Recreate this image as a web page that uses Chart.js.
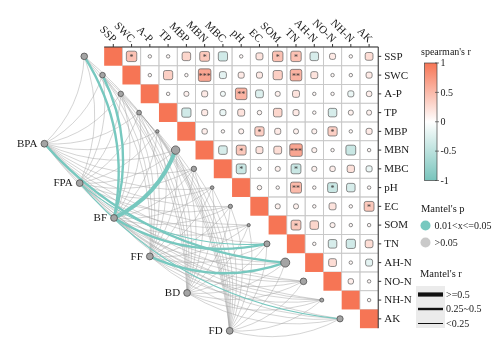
<!DOCTYPE html>
<html><head><meta charset="utf-8">
<script src="https://cdn.jsdelivr.net/npm/chart.js@4"></script>
<style>html,body{margin:0;padding:0;background:#fff}canvas{display:block}</style>
</head><body>
<canvas id="c" width="500" height="350"></canvas>
<script>
// ---------------- DATA ----------------
const variables = ['SSP','SWC','A-P','TP','MBP','MBN','MBC','pH','EC','SOM','TN','AH-N','NO-N','NH-N','AK'];
// Spearman's r, upper triangle: row i holds columns i+1 .. 14
const corrSSP  = [0.45,0.05,0.05,0.30,0.40,-0.35,0.05,0.20,0.45,0.45,-0.30,0.15,0.05,0.25];
const corrSWC  = [0.05,0.35,0.05,0.65,-0.20,0.15,0.15,0.35,0.55,0.20,0.05,0.05,0.15];
const corrAP   = [0.05,0.10,0.15,-0.10,0.55,-0.25,0.10,0.20,0.05,0.05,-0.15,0.12];
const corrTP   = [-0.35,0.15,-0.15,0.20,0.08,0.30,0.15,0.05,-0.30,0.10,0.10];
const corrMBP  = [0.12,0.05,0.10,0.35,0.15,0.10,0.10,0.35,0.05,0.15];
const corrMBN  = [-0.30,0.40,0.20,0.25,0.65,0.10,0.05,-0.40,0.05];
const corrMBC  = [-0.40,0.05,0.10,-0.40,0.10,0.12,0.22,-0.15];
const corrPH   = [0.08,0.05,0.50,0.05,-0.40,-0.30,0.05];
const corrEC   = [0.10,0.10,0.05,0.20,0.05,0.40];
const corrSOM  = [0.40,0.30,0.10,0.05,0.05];
const corrTN   = [0.05,-0.30,-0.35,0.25];
const corrAHN  = [0.25,0.05,-0.20];
const corrNON  = [0.12,0.05];
const corrNHN  = [0.05];
const corrRows = [corrSSP,corrSWC,corrAP,corrTP,corrMBP,corrMBN,corrMBC,corrPH,corrEC,corrSOM,corrTN,corrAHN,corrNON,corrNHN];
// significance marks, same shape
const sigSSP = ['*','','','','*','','','','*','*','','','',''];
const sigSWC = ['','','','***','','','','','**','','','',''];
const sigAP  = ['','','','','**','','','','','','',''];
const sigTP  = ['','','','','','','','','','',''];
const sigMBP = ['','','','*','','','','*','',''];
const sigMBN = ['','*','','','***','','','',''];
const sigMBC = ['*','','','*','','','',''];
const sigPH  = ['','','**','','*','',''];
const sigEC  = ['','','','','','*'];
const sigSOM = ['*','','','',''];
const sigTN  = ['','','',''];
const sigAHN = ['','',''];
const sigNON = ['',''];
const sigNHN = [''];
const sigRows = [sigSSP,sigSWC,sigAP,sigTP,sigMBP,sigMBN,sigMBC,sigPH,sigEC,sigSOM,sigTN,sigAHN,sigNON,sigNHN];

// Mantel tests: each source vs each variable
const sources = ['BPA','FPA','BF','FF','BD','FD'];
const mantelR_BPA = [0.10,0.08,0.12,0.06,0.09,0.14,0.05,0.07,0.11,0.08,0.16,0.31,0.10,0.06,0.09];
const mantelP_BPA = [0.41,0.52,0.33,0.68,0.47,0.22,0.79,0.61,0.38,0.55,0.14,0.032,0.44,0.71,0.49];
const mantelR_FPA = [0.07,0.11,0.05,0.09,0.13,0.08,0.10,0.06,0.12,0.07,0.21,0.10,0.08,0.14,0.19];
const mantelP_FPA = [0.63,0.36,0.82,0.51,0.29,0.58,0.45,0.74,0.34,0.66,0.041,0.43,0.57,0.26,0.046];
const mantelR_BF  = [0.42,0.39,0.09,0.11,0.07,0.56,0.12,0.08,0.10,0.06,0.33,0.14,0.09,0.11,0.08];
const mantelP_BF  = [0.021,0.026,0.49,0.37,0.64,0.012,0.31,0.58,0.42,0.71,0.034,0.19,0.52,0.39,0.60];
const mantelR_FF  = [0.06,0.09,0.11,0.07,0.10,0.13,0.08,0.12,0.05,0.09,0.15,0.36,0.10,0.07,0.11];
const mantelP_FF  = [0.72,0.48,0.35,0.66,0.43,0.27,0.59,0.31,0.84,0.50,0.18,0.028,0.46,0.69,0.37];
const mantelR_BD  = [0.08,0.05,0.10,0.12,0.07,0.09,0.11,0.06,0.13,0.08,0.10,0.07,0.12,0.09,0.06];
const mantelP_BD  = [0.55,0.83,0.40,0.30,0.67,0.50,0.36,0.75,0.25,0.60,0.42,0.70,0.32,0.53,0.78];
const mantelR_FD  = [0.09,0.07,0.06,0.10,0.12,0.08,0.05,0.11,0.09,0.13,0.07,0.10,0.06,0.08,0.12];
const mantelP_FD  = [0.47,0.62,0.77,0.40,0.28,0.57,0.85,0.34,0.48,0.23,0.65,0.39,0.73,0.56,0.31];
const mantelR = [mantelR_BPA,mantelR_FPA,mantelR_BF,mantelR_FF,mantelR_BD,mantelR_FD];
const mantelP = [mantelP_BPA,mantelP_FPA,mantelP_BF,mantelP_FF,mantelP_BD,mantelP_FD];

const colorbarTicks = [1,0.5,0,-0.5,-1];
const mantelPLabels = ['0.01<x<=0.05','>0.05'];
const mantelRLabels = ['>=0.5','0.25~0.5','<0.25'];

// ---------------- LAYOUT / STYLE ----------------
const W = 500, H = 350;
const cellW = 18.667, cellH = 19.333, gridLeft = 101, gridTop = 43;
const xMin = -gridLeft / cellW, xMax = xMin + W / cellW;
const yMin = -gridTop / cellH,  yMax = yMin + H / cellH;
const nodeOffsetX = -1.09;                      // variable node sits left of its diagonal cell
const nodeRadius = [3.3,2.8,2.7,2.4,1.7,4.2,2.7,1.8,2.1,1.6,3.0,4.5,3.3,2.0,3.1];
const sourcePos = [[-3.27,5.16],[-1.34,7.26],[0.54,9.12],[2.50,11.17],[4.54,13.12],[6.87,15.14]];
const POS = [246,117,85], NEG = [120,196,188];
const TEAL = '#77C8BF';
const FONT = '"Liberation Serif", "Times New Roman", serif';

function corrColor(r){
  const c = r >= 0 ? POS : NEG, t = Math.min(1, Math.abs(r));
  const m = c.map(v => Math.round(255 + (v - 255) * t));
  return `rgb(${m[0]},${m[1]},${m[2]})`;
}
function rrect(ctx,x,y,w,h,rad){
  rad = Math.min(rad, w/2, h/2);
  ctx.beginPath();
  ctx.moveTo(x+rad,y); ctx.lineTo(x+w-rad,y); ctx.arcTo(x+w,y,x+w,y+rad,rad);
  ctx.lineTo(x+w,y+h-rad); ctx.arcTo(x+w,y+h,x+w-rad,y+h,rad);
  ctx.lineTo(x+rad,y+h); ctx.arcTo(x,y+h,x,y+h-rad,rad);
  ctx.lineTo(x,y+rad); ctx.arcTo(x,y,x+rad,y,rad); ctx.closePath();
}

const corrPlugin = {
  id: 'corrMantel',
  beforeDatasetsDraw(chart){
    const ctx = chart.ctx, xs = chart.scales.x, ys = chart.scales.y;
    const px = v => xs.getPixelForValue(v), py = v => ys.getPixelForValue(v);
    const n = variables.length;
    ctx.save();
    // ---- mantel edges (curved) ----
    const edges = [];
    sources.forEach((s,k) => {
      variables.forEach((v,i) => {
        const p = mantelP[k][i], r = mantelR[k][i];
        const sig = p > 0.01 && p <= 0.05;
        const w = r >= 0.5 ? 4.2 : (r >= 0.25 ? 2.4 : (sig ? 1.1 : 0.8));
        edges.push({k,i,sig,w});
      });
    });
    edges.sort((a,b) => (a.sig - b.sig));
    edges.forEach(e => {
      const x0 = px(sourcePos[e.k][0]), y0 = py(sourcePos[e.k][1]);
      const x1 = px(e.i + nodeOffsetX), y1 = py(e.i + 0.5);
      const dx = x1 - x0, dy = y1 - y0;
      const cx = (x0 + x1)/2 - 0.2*dy, cy = (y0 + y1)/2 + 0.2*dx;
      ctx.beginPath(); ctx.moveTo(x0,y0); ctx.quadraticCurveTo(cx,cy,x1,y1);
      ctx.strokeStyle = e.sig ? TEAL : 'rgba(165,165,165,0.6)';
      ctx.lineWidth = e.w; ctx.lineCap = 'butt';
      ctx.stroke();
    });
    // ---- heatmap cells ----
    for (let i = 0; i < n; i++){
      for (let j = i; j < n; j++){
        const x0 = px(j), x1 = px(j+1), y0 = py(i), y1 = py(i+1);
        if (i === j){
          ctx.fillStyle = corrColor(1);
          ctx.fillRect(x0, y0, x1-x0, y1-y0);
        } else {
          ctx.strokeStyle = '#c8c8c8'; ctx.lineWidth = 0.8;
          ctx.strokeRect(x0, y0, x1-x0, y1-y0);
        }
      }
    }
    for (let i = 0; i < n-1; i++){
      corrRows[i].forEach((r, t) => {
        const j = i + 1 + t;
        const cx = px(j+0.5), cy = py(i+0.5);
        const side = 0.85 * Math.min(px(j+1)-px(j), py(i+1)-py(i)) * Math.sqrt(Math.abs(r));
        rrect(ctx, cx-side/2, cy-side/2, side, side, 2);
        ctx.fillStyle = corrColor(r); ctx.fill();
        ctx.strokeStyle = '#5c5c5c'; ctx.lineWidth = 0.7; ctx.stroke();
        const s = sigRows[i][t];
        if (s){
          ctx.fillStyle = '#333'; ctx.font = '8px ' + FONT;
          ctx.textAlign = 'center'; ctx.textBaseline = 'middle';
          ctx.fillText(s, cx, cy + 1.5);
        }
      });
    }
    // outer border and ticks
    ctx.strokeStyle = '#333'; ctx.lineWidth = 1;
    ctx.beginPath();
    ctx.moveTo(px(0), py(0)); ctx.lineTo(px(n), py(0)); ctx.lineTo(px(n), py(n));
    for (let j = 0; j < n; j++){ ctx.moveTo(px(j+0.5), py(0)); ctx.lineTo(px(j+0.5), py(0)-3); }
    for (let i = 0; i < n; i++){ ctx.moveTo(px(n), py(i+0.5)); ctx.lineTo(px(n)+3, py(i+0.5)); }
    ctx.stroke();
    ctx.restore();
  },
  afterDraw(chart){
    const ctx = chart.ctx, xs = chart.scales.x, ys = chart.scales.y;
    const px = v => xs.getPixelForValue(v), py = v => ys.getPixelForValue(v);
    const n = variables.length;
    ctx.save();
    ctx.fillStyle = '#1a1a1a';
    ctx.font = '11px ' + FONT;
    // right labels
    ctx.textAlign = 'left'; ctx.textBaseline = 'middle';
    variables.forEach((v,i) => ctx.fillText(v, px(n)+6, py(i+0.5)+0.5));
    // top labels rotated
    variables.forEach((v,j) => {
      ctx.save();
      ctx.translate(px(j+0.5)+1, py(0)-6);
      ctx.rotate(Math.PI/4);
      ctx.textAlign = 'right'; ctx.textBaseline = 'middle';
      ctx.fillText(v, 0, 0);
      ctx.restore();
    });
    // source labels
    ctx.font = '11px ' + FONT;
    ctx.textAlign = 'right'; ctx.textBaseline = 'middle';
    sources.forEach((s,k) => ctx.fillText(s, px(sourcePos[k][0]) - 7, py(sourcePos[k][1]) + 0.5));

    // ---- colorbar ----
    const cbx = 424.5, cbw = 12.5, cbTop = 63, cbBot = 180.5;
    const g = ctx.createLinearGradient(0, cbTop, 0, cbBot);
    g.addColorStop(0, corrColor(1)); g.addColorStop(0.5, '#ffffff'); g.addColorStop(1, corrColor(-1));
    ctx.fillStyle = g; ctx.fillRect(cbx, cbTop, cbw, cbBot - cbTop);
    ctx.strokeStyle = '#444'; ctx.lineWidth = 0.7; ctx.strokeRect(cbx, cbTop, cbw, cbBot - cbTop);
    ctx.fillStyle = '#1a1a1a'; ctx.font = '10px ' + FONT;
    ctx.textAlign = 'left'; ctx.textBaseline = 'middle';
    ctx.fillText("spearman's r", 421, 52);
    colorbarTicks.forEach(t => {
      const y = cbTop + (1 - t) / 2 * (cbBot - cbTop);
      ctx.beginPath(); ctx.moveTo(cbx + cbw - 2, y); ctx.lineTo(cbx + cbw + 2, y); ctx.stroke();
      ctx.fillText(String(t), cbx + cbw + 3.5, y + 0.5);
    });
    // ---- Mantel's p legend ----
    ctx.font = '10.5px ' + FONT;
    ctx.fillText("Mantel's p", 421, 209);
    ctx.font = '10px ' + FONT;
    [TEAL, '#c9c9c9'].forEach((c, k) => {
      const y = 225.5 + k * 17;
      ctx.beginPath(); ctx.arc(425.5, y, 5, 0, Math.PI*2); ctx.fillStyle = c; ctx.fill();
      ctx.fillStyle = '#1a1a1a';
      ctx.fillText(mantelPLabels[k], 434.5, y + 0.5);
    });
    // ---- Mantel's r legend ----
    ctx.font = '10.5px ' + FONT;
    ctx.fillText("Mantel's r", 420, 274);
    ctx.fillStyle = '#ebebeb'; ctx.fillRect(416, 286, 29, 42);
    const lw = [4.2, 2.4, 1.0];
    ctx.font = '10px ' + FONT;
    lw.forEach((w, k) => {
      const y = 294.5 + k * 14.5;
      ctx.strokeStyle = '#111'; ctx.lineWidth = w;
      ctx.beginPath(); ctx.moveTo(418, y); ctx.lineTo(443, y); ctx.stroke();
      ctx.fillStyle = '#1a1a1a';
      ctx.fillText(mantelRLabels[k], 446, y + 0.5);
    });
    ctx.restore();
  }
};

new Chart(document.getElementById('c'), {
  type: 'bubble',
  data: {
    datasets: [
      { label: 'variables',
        data: variables.map((v,i) => ({x: i + nodeOffsetX, y: i + 0.5, r: nodeRadius[i]})),
        backgroundColor: '#a4a4a4', borderColor: '#4f4f4f', borderWidth: 0.8 },
      { label: 'sources',
        data: sources.map((s,k) => ({x: sourcePos[k][0], y: sourcePos[k][1], r: 3.4})),
        backgroundColor: '#a4a4a4', borderColor: '#4f4f4f', borderWidth: 0.8 }
    ]
  },
  options: {
    responsive: false, animation: false, devicePixelRatio: 1, events: [],
    layout: { padding: 0 },
    plugins: { legend: { display: false }, tooltip: { enabled: false } },
    scales: {
      x: { type: 'linear', min: xMin, max: xMax, display: false },
      y: { type: 'linear', min: yMin, max: yMax, reverse: true, display: false }
    }
  },
  plugins: [corrPlugin]
});
</script>
</body></html>
